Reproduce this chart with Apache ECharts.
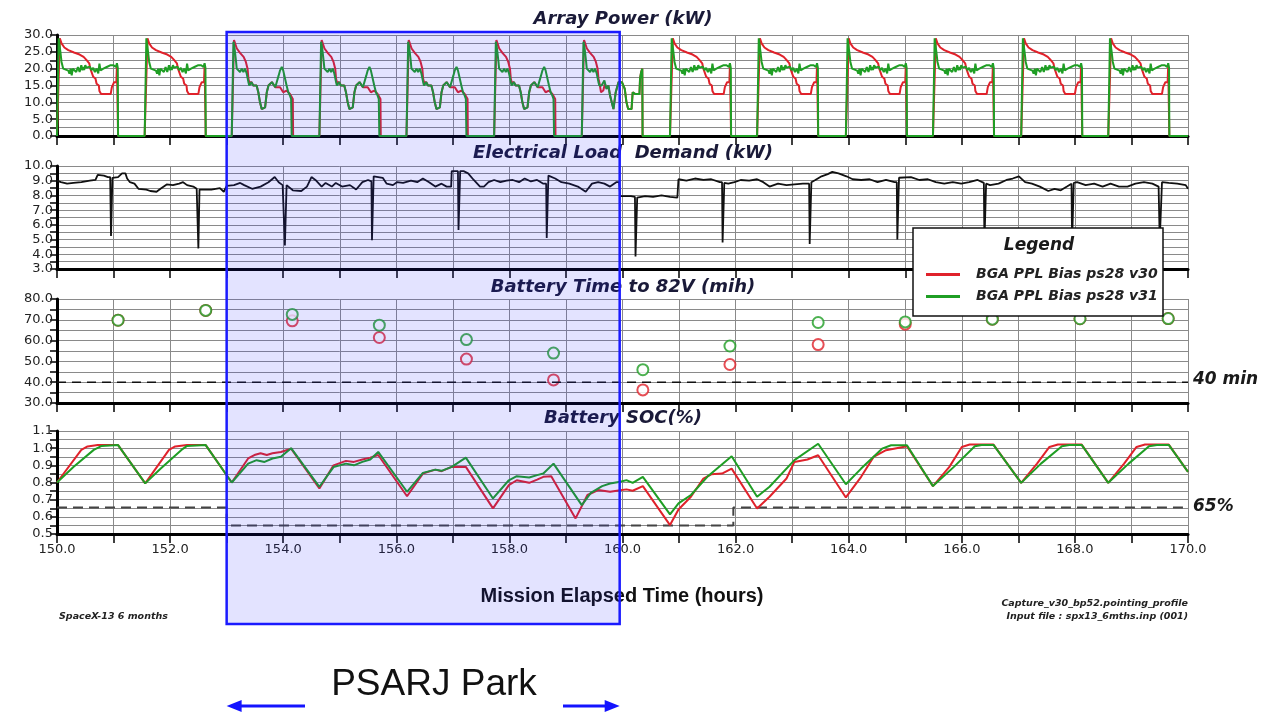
<!DOCTYPE html>
<html>
<head>
<meta charset="utf-8">
<title>Array Power / Load / Battery</title>
<script src="https://cdn.jsdelivr.net/npm/echarts@6/dist/echarts.min.js"></script>
<style>
  html, body { margin: 0; padding: 0; background: #fff; }
  #chart { width: 1272px; height: 714px; }
</style>
</head>
<body>
<div id="chart"></div>
<script>
// ---- Series names -------------------------------------------------------
const NAME_V30 = 'BGA PPL Bias ps28 v30';
const NAME_V31 = 'BGA PPL Bias ps28 v31';

// ---- Orbit timing (mission elapsed hours) -------------------------------
const orbitStarts = [150.0, 151.55, 153.09, 154.64, 156.18, 157.73, 159.28,
                     160.84, 162.38, 163.95, 165.49, 167.05, 168.59];
const orbitKinds  = ['sun', 'sun', 'park', 'park', 'park', 'park', 'parkLast',
                     'sun', 'sun', 'sun', 'sun', 'sun', 'sun'];
const parkStart = 153.0;
const parkEnd = 159.95;

// ---- Array power profiles per orbit: [hours after orbit start, kW] -------
const sunRedShape = [[0,0],[0.01,0],[0.05,29],[0.08,27.5],[0.13,26.3],[0.2,25.5],[0.3,24.8],[0.4,24.2],
  [0.47,23.5],[0.52,22.6],[0.57,21.6],[0.59,20],[0.62,19.6],[0.64,17.6],[0.68,17.1],[0.7,15.5],[0.74,15],
  [0.75,13.4],[0.78,12.5],[0.95,12.5],[0.97,14.5],[1.0,14.5],[1.01,16],[1.05,16],[1.06,21],[1.075,21],[1.08,0]];
const sunGreenShape = [[0,0],[0.01,0],[0.03,29],[0.06,25],[0.08,22],[0.11,20],[0.14,19.5],[0.2,19.4],
  [0.22,18.5],[0.24,20],[0.26,18],[0.28,20],[0.31,19.5],[0.34,19],[0.37,20.5],[0.4,19],[0.43,21],[0.45,19.5],
  [0.46,20.5],[0.48,19.6],[0.5,21],[0.52,20.3],[0.55,20],[0.58,20.6],[0.61,19.6],[0.64,20.2],[0.67,19],
  [0.7,20],[0.73,18.6],[0.75,21.5],[0.77,19.5],[0.82,20],[0.88,20.5],[0.94,21],[1.0,21],[1.04,20.5],
  [1.06,21.6],[1.075,20.2],[1.08,0]];
const parkRedShape = [[0,0],[0.01,0],[0.04,28.5],[0.09,26],[0.15,24.6],[0.21,23.5],[0.25,22],[0.28,20],
  [0.295,17],[0.31,16],[0.35,16],[0.38,15],[0.41,15.5],[0.44,15],[0.47,13],[0.5,10],[0.53,8],[0.56,7.8],
  [0.59,8.5],[0.62,13],[0.65,15],[0.71,16],[0.77,14.5],[0.8,15],[0.855,14.5],[0.91,13],[0.97,13.5],
  [1.03,12.5],[1.08,11],[1.085,0]];
const parkGreenShape = [[0,0],[0.01,0],[0.03,28],[0.05,26],[0.077,22],[0.088,20],[0.12,19.5],[0.147,19],
  [0.177,20],[0.206,19],[0.236,20],[0.265,18.5],[0.295,16],[0.31,15],[0.35,16],[0.38,15],[0.41,15.5],
  [0.44,15],[0.47,13],[0.5,10],[0.53,8],[0.56,7.8],[0.59,8.5],[0.62,13],[0.65,15],[0.71,16],[0.77,14.5],
  [0.8,15],[0.83,18],[0.855,19.5],[0.885,20.5],[0.91,19.5],[0.94,19],[0.97,15],[1.0,13],[1.03,12],
  [1.05,11],[1.06,0]];
// last parked orbit runs on past the end of the park window (absolute hours, kW)
const lastParkGreenTail = [[159.63,15],[159.65,14.5],[159.68,16.5],[159.7,15],[159.72,14],[159.75,15],
  [159.78,12],[159.81,10],[159.84,8],[159.86,8.5],[159.88,13],[159.9,13],[159.93,16],[159.96,15.5],
  [159.99,16],[160.02,15.5],[160.04,14],[160.07,10],[160.1,8],[160.13,7.5],[160.16,8],[160.18,13],
  [160.22,12.5],[160.25,13],[160.3,12.5],[160.31,17],[160.33,19],[160.35,20],[160.355,0]];
const lastParkRedTail = [[159.62,13],[159.66,13.5],[159.69,15.5],[159.72,14],[159.75,15],
  [159.78,12],[159.81,10],[159.84,8],[159.86,8.5],[159.88,13],[159.9,13],[159.93,16],[159.96,15.5],
  [159.99,16],[160.02,15.5],[160.04,14],[160.07,10],[160.1,8],[160.13,7.5],[160.16,8],[160.18,13],
  [160.22,12.5],[160.25,13],[160.3,12.5],[160.31,17],[160.33,19],[160.35,20],[160.355,0]];

// ---- Electrical load demand: [hours, kW] ---------------------------------
const loadDemand = [[150.0,9.0],[150.07,8.9],[150.18,8.8],[150.29,8.85],[150.43,8.9],[150.58,9.0],[150.68,9.05],
  [150.72,9.4],[150.83,9.35],[150.9,9.25],[150.94,9.25],[150.955,5.25],[150.965,5.25],[150.98,9.2],[151.08,9.25],
  [151.15,9.5],[151.21,9.5],[151.24,9.15],[151.29,8.9],[151.37,8.8],[151.44,8.45],[151.58,8.4],[151.65,8.3],
  [151.76,8.25],[151.83,8.45],[151.94,8.75],[152.05,8.7],[152.16,8.8],[152.23,8.9],[152.3,8.7],[152.41,8.6],
  [152.47,8.45],[152.49,8.45],[152.5,4.4],[152.51,4.4],[152.52,8.4],[152.73,8.4],[152.88,8.5],[152.95,8.25],
  [153.0,8.65],[153.13,8.7],[153.24,8.85],[153.31,8.7],[153.45,8.45],[153.6,8.6],[153.74,8.9],[153.85,9.25],
  [153.92,8.9],[153.99,8.7],[154.02,8.7],[154.03,4.6],[154.04,4.6],[154.06,8.7],[154.17,8.35],[154.32,8.3],
  [154.42,8.6],[154.5,9.25],[154.57,9.05],[154.68,8.6],[154.75,8.85],[154.86,8.6],[154.93,8.85],[155.04,8.6],
  [155.18,8.7],[155.29,8.4],[155.4,8.9],[155.5,9.05],[155.56,8.95],[155.57,4.95],[155.58,4.95],[155.6,9.3],
  [155.76,9.2],[155.83,8.8],[155.94,8.7],[156.01,8.9],[156.12,8.85],[156.26,9.0],[156.37,8.9],[156.47,9.15],
  [156.58,8.9],[156.69,8.6],[156.8,8.8],[156.89,8.6],[156.97,8.6],[156.98,9.65],[157.09,9.65],[157.1,5.65],
  [157.11,5.65],[157.13,9.65],[157.19,9.65],[157.27,9.5],[157.37,9.05],[157.48,8.6],[157.55,8.6],[157.63,8.9],
  [157.73,9.05],[157.84,8.9],[157.95,9.0],[158.06,9.05],[158.17,8.9],[158.27,9.15],[158.38,8.95],[158.49,9.05],
  [158.6,8.8],[158.65,8.8],[158.66,5.1],[158.67,5.1],[158.69,9.35],[158.81,9.15],[158.92,8.9],[159.06,8.8],
  [159.21,8.6],[159.35,8.25],[159.46,8.8],[159.57,8.9],[159.68,8.8],[159.78,8.6],[159.89,8.9],[159.94,8.9],
  [159.96,7.95],[160.15,7.95],[160.22,7.9],[160.23,3.85],[160.24,3.85],[160.26,7.85],[160.4,7.95],[160.54,7.9],
  [160.69,8.0],[160.84,7.9],[160.97,7.85],[160.99,9.1],[161.13,9.0],[161.28,9.15],[161.43,9.05],[161.57,9.1],
  [161.72,8.9],[161.76,8.9],[161.77,4.8],[161.78,4.8],[161.8,8.85],[161.87,8.8],[161.98,8.9],[162.09,9.05],
  [162.24,9.0],[162.38,9.1],[162.49,8.9],[162.6,8.6],[162.75,8.8],[162.9,8.7],[163.04,8.75],[163.19,8.8],
  [163.3,8.8],[163.31,4.7],[163.32,4.7],[163.34,8.9],[163.41,9.05],[163.52,9.3],[163.63,9.45],[163.71,9.6],
  [163.82,9.5],[163.96,9.3],[164.07,9.1],[164.22,9.05],[164.37,9.1],[164.51,8.9],[164.66,9.05],[164.81,8.9],
  [164.85,8.9],[164.86,5.0],[164.87,5.0],[164.89,9.2],[165.1,9.25],[165.25,9.05],[165.4,9.1],[165.54,8.9],
  [165.69,8.8],[165.84,8.9],[165.99,8.8],[166.13,8.9],[166.28,9.05],[166.39,8.85],[166.4,4.8],[166.41,4.8],
  [166.43,8.8],[166.5,8.7],[166.65,8.8],[166.79,9.05],[166.9,9.15],[167.01,9.3],[167.12,8.9],[167.24,8.8],
  [167.38,8.6],[167.53,8.3],[167.64,8.45],[167.75,8.35],[167.86,8.6],[167.94,8.8],[167.95,4.8],[167.96,4.8],
  [167.98,8.85],[168.04,8.9],[168.19,8.7],[168.34,8.8],[168.49,8.6],[168.63,8.8],[168.78,8.6],[168.93,8.6],
  [169.07,8.8],[169.22,8.9],[169.37,8.8],[169.48,8.6],[169.5,4.9],[169.51,4.9],[169.54,8.9],[169.66,8.85],
  [169.81,8.8],[169.96,8.7],[170.0,8.45]];

// ---- Battery time to 82 V at end of each sunlit pass: [hours, minutes] ----
const timeTo82V_v30 = [[151.08,69.8],[152.63,74.5],[154.16,69.5],[155.70,61.5],[157.24,51.1],[158.78,41.1],
  [160.36,36.3],[161.90,48.5],[163.46,58.1],[165.0,67.9],[166.54,70.3],[168.09,70.5],[169.65,70.6]];
const timeTo82V_v31 = [[151.08,69.8],[152.63,74.5],[154.16,72.6],[155.70,67.4],[157.24,60.5],[158.78,54.0],
  [160.36,46.0],[161.90,57.4],[163.46,68.7],[165.0,69.0],[166.54,70.3],[168.09,70.5],[169.65,70.6]];
const timeLimit = 40;

// ---- Battery state of charge: [hours, fraction] --------------------------
const soc_v30 = [[150.0,0.80],[150.43,0.99],[150.54,1.01],[150.72,1.018],[151.08,1.018],[151.56,0.795],
  [151.98,0.99],[152.09,1.01],[152.3,1.018],[152.63,1.018],[153.09,0.80],[153.38,0.94],[153.49,0.96],
  [153.6,0.97],[153.71,0.96],[153.81,0.97],[153.96,0.978],[154.14,0.997],[154.64,0.765],[154.89,0.90],
  [155.11,0.926],[155.25,0.92],[155.4,0.934],[155.54,0.945],[155.68,0.96],[156.19,0.72],[156.47,0.852],
  [156.69,0.875],[156.8,0.866],[156.98,0.891],[157.23,0.891],[157.71,0.649],[157.99,0.785],[158.13,0.813],
  [158.35,0.798],[158.49,0.817],[158.6,0.833],[158.74,0.837],[159.17,0.591],[159.38,0.727],[159.57,0.756],
  [159.78,0.746],[159.96,0.755],[160.07,0.76],[160.18,0.752],[160.36,0.779],[160.84,0.552],[160.99,0.643],
  [161.21,0.717],[161.43,0.823],[161.57,0.848],[161.76,0.852],[161.93,0.881],[162.38,0.649],[162.6,0.717],
  [162.9,0.823],[163.04,0.92],[163.27,0.934],[163.46,0.959],[163.95,0.713],[164.22,0.833],[164.44,0.949],
  [164.66,0.988],[165.03,1.011],[165.49,0.779],[165.78,0.891],[166.0,1.007],[166.14,1.021],[166.56,1.021],
  [167.05,0.798],[167.33,0.91],[167.55,1.007],[167.7,1.021],[168.12,1.021],[168.59,0.798],[168.87,0.91],
  [169.09,1.007],[169.24,1.021],[169.66,1.021],[170.0,0.862]];
const soc_v31 = [[150.0,0.80],[150.29,0.89],[150.65,0.99],[150.79,1.013],[151.08,1.018],[151.56,0.795],
  [151.83,0.88],[152.2,0.99],[152.3,1.013],[152.63,1.018],[153.09,0.80],[153.38,0.91],[153.53,0.93],
  [153.67,0.92],[153.81,0.94],[153.96,0.95],[154.14,1.0],[154.64,0.775],[154.89,0.89],[155.11,0.91],
  [155.25,0.90],[155.4,0.92],[155.54,0.934],[155.68,0.978],[156.19,0.746],[156.47,0.856],[156.69,0.875],
  [156.8,0.868],[156.98,0.891],[157.23,0.945],[157.71,0.707],[157.99,0.813],[158.13,0.837],[158.35,0.829],
  [158.49,0.843],[158.6,0.852],[158.78,0.91],[159.28,0.668],[159.44,0.74],[159.64,0.779],[159.78,0.794],
  [159.96,0.804],[160.07,0.814],[160.18,0.798],[160.36,0.833],[160.84,0.614],[160.99,0.678],[161.21,0.727],
  [161.5,0.833],[161.93,0.953],[162.38,0.717],[162.6,0.775],[163.04,0.93],[163.46,1.026],[163.95,0.79],
  [164.22,0.881],[164.59,0.997],[164.75,1.017],[165.03,1.017],[165.49,0.779],[165.86,0.891],[166.23,1.011],
  [166.35,1.019],[166.56,1.019],[167.05,0.798],[167.4,0.91],[167.77,1.011],[167.9,1.019],[168.12,1.019],
  [168.59,0.798],[168.95,0.91],[169.31,1.011],[169.45,1.019],[169.66,1.019],[170.0,0.862]];
// minimum state-of-charge constraint (steps down while the PSARJ is parked)
const socLimit = [[150.0,0.655],[153.0,0.655],[153.0,0.55],[161.96,0.55],[161.96,0.655],[170.0,0.655]];

// ---- Axis tick labels -----------------------------------------------------
const powerTicks = ['0.0','5.0','10.0','15.0','20.0','25.0','30.0'];
const loadTicks = ['3.0','4.0','5.0','6.0','7.0','8.0','9.0','10.0'];
const timeTicks = ['30.0','40.0','50.0','60.0','70.0','80.0'];
const socTicks = ['0.5','0.6','0.7','0.8','0.9','1.0','1.1'];
const hourTicks = ['150.0','152.0','154.0','156.0','158.0','160.0','162.0','164.0','166.0','168.0','170.0'];

// ---- Assemble the array power traces from the per-orbit profiles ---------
function buildPower(sunShape, parkShape, lastTail) {
  const out = [];
  orbitStarts.forEach((t0, i) => {
    const kind = orbitKinds[i];
    if (kind === 'sun') {
      sunShape.forEach(p => out.push([+(t0 + p[0]).toFixed(3), p[1]]));
    } else if (kind === 'park') {
      parkShape.forEach(p => out.push([+(t0 + p[0]).toFixed(3), p[1]]));
    } else {
      parkShape.filter(p => p[0] <= 0.31).forEach(p => out.push([+(t0 + p[0]).toFixed(3), p[1]]));
      lastTail.forEach(p => out.push(p));
    }
  });
  out.push([170, 0]);
  return out;
}
const power_v30 = buildPower(sunRedShape, parkRedShape, lastParkRedTail);
const power_v31 = buildPower(sunGreenShape, parkGreenShape, lastParkGreenTail);

// ---- Styling ---------------------------------------------------------------
const RED = '#e0222b';
const GREEN = '#1f9e24';
const GRID_COLOR = '#8a8a8a';
const LABEL_FONT = 'DejaVu Sans';

const grids = [
  { left: 57, right: 84, top: 35,  height: 101 },
  { left: 57, right: 84, top: 166, height: 103 },
  { left: 57, right: 84, top: 299, height: 104 },
  { left: 57, right: 84, top: 431, height: 103 }
];

// show a tick label only where it appears in the given label list
function labelFrom(list) {
  const vals = list.map(parseFloat);
  return v => {
    const k = vals.findIndex(x => Math.abs(x - v) < 1e-6);
    return k >= 0 ? list[k] : '';
  };
}

function xAxisFor(i) {
  return {
    type: 'value', gridIndex: i, min: 150, max: 170, interval: 1,
    axisLine: { onZero: false, lineStyle: { color: '#000', width: 3 } },
    axisTick: { show: true, length: 9, lineStyle: { color: '#000', width: 1.5 } },
    axisLabel: {
      show: i === 3, margin: 9, color: '#222', fontFamily: LABEL_FONT, fontSize: 13,
      formatter: labelFrom(hourTicks)
    },
    splitLine: { show: true, lineStyle: { color: GRID_COLOR, width: 1 } }
  };
}
function yAxisFor(i, min, max, interval, labels) {
  return {
    type: 'value', gridIndex: i, min: min, max: max, interval: interval,
    axisLine: { show: true, onZero: false, lineStyle: { color: '#000', width: 3 } },
    axisTick: { show: true, length: 7, lineStyle: { color: '#000', width: 1.5 } },
    axisLabel: {
      margin: 4, color: '#222', fontFamily: LABEL_FONT, fontSize: 13,
      formatter: labelFrom(labels)
    },
    splitLine: { show: true, lineStyle: { color: GRID_COLOR, width: 1 } }
  };
}

const lineBase = { type: 'line', showSymbol: false, symbol: 'none', silent: true };

const option = {
  animation: false,
  backgroundColor: '#ffffff',
  grid: grids,
  xAxis: [0, 1, 2, 3].map(xAxisFor),
  yAxis: [
    yAxisFor(0, 0, 30, 2.5, powerTicks),
    yAxisFor(1, 3, 10, 0.5, loadTicks),
    yAxisFor(2, 30, 80, 5, timeTicks),
    yAxisFor(3, 0.5, 1.1, 0.05, socTicks)
  ],
  legend: {
    data: [
      { name: NAME_V30, itemStyle: { color: RED } },
      { name: NAME_V31, itemStyle: { color: GREEN } }
    ],
    orient: 'vertical', left: 921, top: 261, icon: 'rect',
    itemWidth: 34, itemHeight: 3, itemGap: 5, selectedMode: false, z: 60,
    textStyle: {
      fontFamily: LABEL_FONT, fontStyle: 'italic', fontWeight: 'bold', fontSize: 14,
      color: '#222', lineHeight: 17, padding: [0, 0, 0, 11]
    }
  },
  series: [
    Object.assign({}, lineBase, { name: NAME_V30, xAxisIndex: 0, yAxisIndex: 0, data: power_v30,
      lineStyle: { color: RED, width: 2 }, itemStyle: { color: RED } }),
    Object.assign({}, lineBase, { name: NAME_V31, xAxisIndex: 0, yAxisIndex: 0, data: power_v31,
      lineStyle: { color: GREEN, width: 2 }, itemStyle: { color: GREEN } }),
    Object.assign({}, lineBase, { name: 'Electrical Load Demand', xAxisIndex: 1, yAxisIndex: 1, data: loadDemand,
      lineStyle: { color: '#111', width: 1.8 } }),
    Object.assign({}, lineBase, { name: '40 min', xAxisIndex: 2, yAxisIndex: 2,
      data: [[150, timeLimit], [170, timeLimit]],
      lineStyle: { color: '#111', width: 1.6, type: [9, 6] } }),
    { type: 'scatter', name: NAME_V30, xAxisIndex: 2, yAxisIndex: 2, data: timeTo82V_v30, silent: true,
      symbol: 'emptyCircle', symbolSize: 11, itemStyle: { color: RED, borderColor: RED, borderWidth: 1.8 } },
    { type: 'scatter', name: NAME_V31, xAxisIndex: 2, yAxisIndex: 2, data: timeTo82V_v31, silent: true,
      symbol: 'emptyCircle', symbolSize: 11, itemStyle: { color: GREEN, borderColor: GREEN, borderWidth: 1.8 } },
    Object.assign({}, lineBase, { name: '65%', xAxisIndex: 3, yAxisIndex: 3, data: socLimit,
      lineStyle: { color: '#444', width: 2, type: [10, 6] } }),
    Object.assign({}, lineBase, { name: NAME_V30, xAxisIndex: 3, yAxisIndex: 3, data: soc_v30,
      lineStyle: { color: RED, width: 2 } }),
    Object.assign({}, lineBase, { name: NAME_V31, xAxisIndex: 3, yAxisIndex: 3, data: soc_v31,
      lineStyle: { color: GREEN, width: 2 } })
  ]
};

const chart = echarts.init(document.getElementById('chart'), null, { renderer: 'canvas' });
chart.setOption(option);

// ---- Panel titles, legend frame, park window and notes ---------------------
const TITLE_FONT = 'italic bold 18px "DejaVu Sans"';
const TITLE_COLOR = '#1a1a38';
const panelTitles = [
  { text: 'Array Power (kW)', y: 19 },
  { text: 'Electrical Load  Demand (kW)', y: 153 },
  { text: 'Battery Time to 82V (mih)', y: 287 },
  { text: 'Battery SOC(%)', y: 418 }
];
const xPark0 = chart.convertToPixel({ xAxisIndex: 3 }, parkStart);
const xPark1 = chart.convertToPixel({ xAxisIndex: 3 }, parkEnd);

const graphics = [];
panelTitles.forEach(t => graphics.push({
  type: 'text', z: 40, x: 623, y: t.y,
  style: { text: t.text, font: TITLE_FONT, fill: TITLE_COLOR, textAlign: 'center', textVerticalAlign: 'middle' }
}));
// legend frame
graphics.push({ type: 'rect', z: 50, shape: { x: 913, y: 228, width: 250, height: 88 },
  style: { fill: '#ffffff', stroke: '#111', lineWidth: 1.5 } });
graphics.push({ type: 'text', z: 51, x: 1039, y: 246,
  style: { text: 'Legend', font: 'italic bold 17px "DejaVu Sans"', fill: '#1a1a1a', textAlign: 'center', textVerticalAlign: 'middle' } });
// limit labels
graphics.push({ type: 'text', z: 40, x: 1193, y: 380,
  style: { text: '40 min', font: 'italic bold 17px "DejaVu Sans"', fill: '#1a1a1a', textVerticalAlign: 'middle' } });
graphics.push({ type: 'text', z: 40, x: 1193, y: 507,
  style: { text: '65%', font: 'italic bold 17px "DejaVu Sans"', fill: '#1a1a1a', textVerticalAlign: 'middle' } });
// x axis title and run notes
graphics.push({ type: 'text', z: 40, x: 622, y: 596,
  style: { text: 'Mission Elapsed Time (hours)', font: 'bold 20px "Liberation Sans"', fill: '#111', textAlign: 'center', textVerticalAlign: 'middle' } });
graphics.push({ type: 'text', z: 40, x: 59, y: 617,
  style: { text: 'SpaceX-13 6 months', font: 'italic bold 9.5px "DejaVu Sans"', fill: '#222', textVerticalAlign: 'middle' } });
graphics.push({ type: 'text', z: 40, x: 1188, y: 604,
  style: { text: 'Capture_v30_bp52.pointing_profile', font: 'italic bold 9.5px "DejaVu Sans"', fill: '#222', textAlign: 'right', textVerticalAlign: 'middle' } });
graphics.push({ type: 'text', z: 40, x: 1188, y: 617,
  style: { text: 'Input file : spx13_6mths.inp (001)', font: 'italic bold 9.5px "DejaVu Sans"', fill: '#222', textAlign: 'right', textVerticalAlign: 'middle' } });
// PSARJ park window
graphics.push({ type: 'rect', z: 80, shape: { x: xPark0, y: 32, width: xPark1 - xPark0, height: 592 },
  style: { fill: 'rgba(40,40,255,0.13)', stroke: '#1a1aff', lineWidth: 2.5 } });
graphics.push({ type: 'text', z: 80, x: 434, y: 685,
  style: { text: 'PSARJ Park', font: '37px "Liberation Sans"', fill: '#111', textAlign: 'center', textVerticalAlign: 'middle' } });
// arrows spanning the park window
const arrowY = 706;
graphics.push({ type: 'line', z: 80, shape: { x1: 305, y1: arrowY, x2: xPark0 + 12, y2: arrowY },
  style: { stroke: '#1414ff', lineWidth: 3 } });
graphics.push({ type: 'polygon', z: 80, shape: { points: [[xPark0, arrowY], [xPark0 + 15, arrowY - 6], [xPark0 + 15, arrowY + 6]] },
  style: { fill: '#1414ff' } });
graphics.push({ type: 'line', z: 80, shape: { x1: 563, y1: arrowY, x2: xPark1 - 12, y2: arrowY },
  style: { stroke: '#1414ff', lineWidth: 3 } });
graphics.push({ type: 'polygon', z: 80, shape: { points: [[xPark1, arrowY], [xPark1 - 15, arrowY - 6], [xPark1 - 15, arrowY + 6]] },
  style: { fill: '#1414ff' } });

chart.setOption({ graphic: graphics });
</script>
</body>
</html>
